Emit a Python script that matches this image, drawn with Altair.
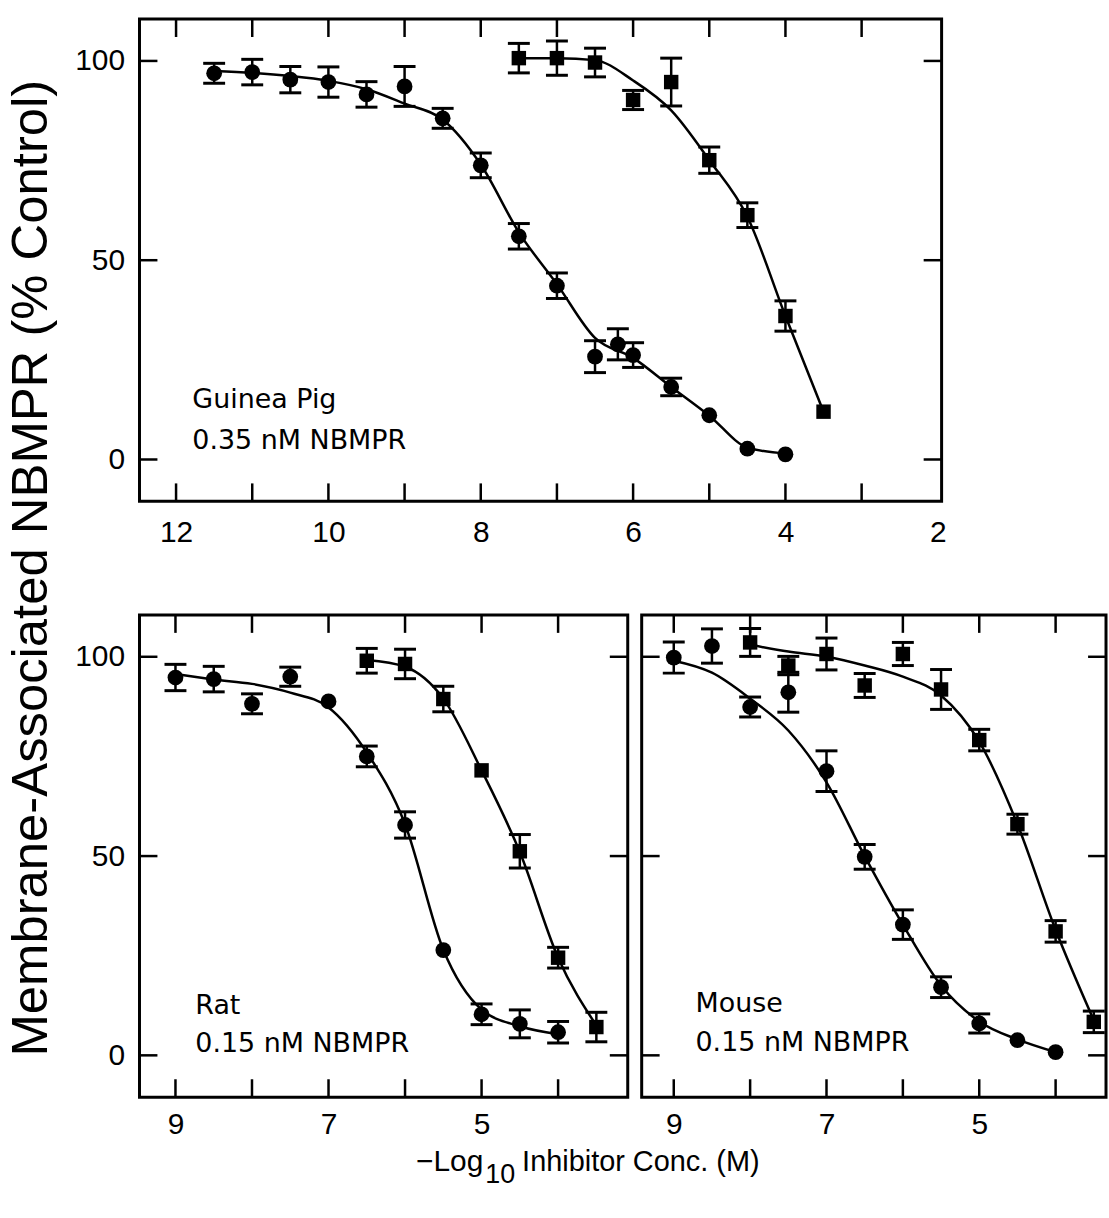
import altair as alt
import pandas as pd

# ---------------- Guinea pig (top panel) ----------------
GP_CIRC_X = [11.5, 11, 10.5, 10, 9.5, 9, 8.5, 8, 7.5, 7, 6.5, 6.2, 6, 5.5, 5, 4.5, 4]
GP_CIRC_Y = [96.9, 97.2, 95.3, 94.7, 91.6, 93.6, 85.6, 73.8, 56.0, 43.6, 25.8, 28.9, 26.2, 18.2, 11.1, 2.7, 1.3]
GP_CIRC_E = [2.5, 3.2, 3.3, 3.8, 3.2, 5.0, 2.5, 3.1, 3.2, 3.2, 4.0, 3.9, 3.1, 2.2, 0, 0, 0]
GP_SQ_X = [7.5, 7, 6.5, 6, 5.5, 5, 4.5, 4, 3.5]
GP_SQ_Y = [100.7, 100.7, 99.6, 90.2, 94.7, 75.1, 61.3, 36.0, 12.0]
GP_SQ_E = [3.7, 4.3, 3.6, 2.4, 6.0, 3.3, 3.1, 3.8, 0]
GP_FIT_C_X = [11.5, 11, 10.5, 10, 9.5, 9, 8.5, 8, 7.5, 7, 6.5, 6, 5.5, 5, 4.5, 4]
GP_FIT_C_Y = [97.5, 97.0, 96.2, 95.0, 92.9, 89.3, 85.3, 74.0, 57.0, 44.0, 30.5, 25.5, 18.2, 11.0, 3.0, 1.5]
GP_FIT_S_X = [7.5, 7, 6.5, 6, 5.5, 5, 4.5, 4, 3.5]
GP_FIT_S_Y = [100.7, 100.7, 100.2, 95.1, 87.6, 75.1, 60.9, 36.0, 12.0]

# ---------------- Rat (bottom left) ----------------
RAT_CIRC_X = [9, 8.5, 8, 7.5, 7, 6.5, 6, 5.5, 5, 4.5, 4]
RAT_CIRC_Y = [94.8, 94.4, 88.2, 95.0, 88.8, 75.0, 57.8, 26.4, 10.3, 7.9, 5.8]
RAT_CIRC_E = [3.3, 3.2, 2.5, 2.4, 0, 2.6, 3.3, 0, 2.6, 3.5, 2.7]
RAT_SQ_X = [6.5, 6, 5.5, 5, 4.5, 4, 3.5]
RAT_SQ_Y = [99.0, 98.2, 89.4, 71.5, 51.2, 24.5, 7.1]
RAT_SQ_E = [3.1, 3.7, 3.2, 0, 4.2, 2.6, 3.7]
RAT_FIT_C_X = [9, 8.5, 8, 7.5, 7, 6.5, 6, 5.5, 5, 4.5, 4]
RAT_FIT_C_Y = [95.7, 94.3, 93.2, 91.0, 87.3, 76.0, 58.0, 26.5, 11.5, 7.3, 5.3]
RAT_FIT_S_X = [6.5, 6, 5.5, 5, 4.5, 4, 3.5]
RAT_FIT_S_Y = [99.2, 97.5, 89.5, 71.5, 51.0, 24.5, 7.5]

# ---------------- Mouse (bottom right) ----------------
MOUSE_CIRC_X = [9, 8.5, 8, 7.5, 7, 6.5, 6, 5.5, 5, 4.5, 4]
MOUSE_CIRC_Y = [99.8, 102.7, 87.4, 91.1, 71.3, 49.8, 32.8, 17.1, 8.0, 3.8, 0.8]
MOUSE_CIRC_E = [3.9, 4.3, 2.5, 5.0, 5.1, 3.1, 3.7, 2.6, 2.4, 0, 0]
MOUSE_SQ_X = [8, 7.5, 7, 6.5, 6, 5.5, 5, 4.5, 4, 3.5]
MOUSE_SQ_Y = [103.6, 97.8, 100.7, 92.8, 100.7, 91.8, 79.1, 58.0, 31.1, 8.4]
MOUSE_SQ_E = [3.5, 2.3, 4.0, 3.0, 2.9, 5.0, 2.7, 2.5, 2.7, 2.7]
MOUSE_FIT_C_X = [9, 8.5, 8, 7.5, 7, 6.5, 6, 5.5, 5, 4.5, 4]
MOUSE_FIT_C_Y = [99.0, 96.0, 89.5, 81.5, 68.5, 50.0, 32.8, 17.5, 8.5, 4.0, 0.8]
MOUSE_FIT_S_X = [8, 7.5, 7, 6.5, 6, 5.5, 5, 4.5, 4, 3.5]
MOUSE_FIT_S_Y = [103.0, 101.3, 100.0, 97.8, 95.0, 90.3, 78.7, 58.0, 31.5, 8.8]

Y_TICKS = [0, 50, 100]
Y_DOMAIN = [-10.5, 110.5]
H = 484
TICK = 18
LABEL_FONT = "Liberation Sans"


def panel(cx, cy, ce, sx, sy, se, fcx, fcy, fsx, fsy, xdom, width, xlabels,
          xticks, show_ylabels, texts, label_pad):
    pts = pd.concat([
        pd.DataFrame({"x": cx, "y": cy, "err": ce, "s": "circle"}),
        pd.DataFrame({"x": sx, "y": sy, "err": se, "s": "square"}),
    ], ignore_index=True)
    bars = pts[pts["err"] > 0].copy()
    bars["lo"] = bars["y"] - bars["err"]
    bars["hi"] = bars["y"] + bars["err"]
    caps = pd.concat([
        pd.DataFrame({"x": bars["x"], "y": bars["lo"]}),
        pd.DataFrame({"x": bars["x"], "y": bars["hi"]}),
    ], ignore_index=True)
    fit = pd.concat([
        pd.DataFrame({"x": fcx, "y": fcy, "s": "c"}),
        pd.DataFrame({"x": fsx, "y": fsy, "s": "s"}),
    ], ignore_index=True)

    xscale = alt.Scale(domain=xdom, reverse=True, nice=False, zero=False)
    yscale = alt.Scale(domain=Y_DOMAIN, nice=False, zero=False)
    xaxis = alt.Axis(values=xlabels, ticks=False, tickSize=0, domain=False,
                     grid=False, labelFont=LABEL_FONT, labelFontSize=30,
                     labelColor="black", labelPadding=label_pad,
                     labelFlush=False, title=None)
    if show_ylabels:
        yaxis = alt.Axis(values=Y_TICKS, ticks=False, tickSize=0, domain=False,
                         grid=False, labelFont=LABEL_FONT, labelFontSize=30,
                         labelColor="black", labelPadding=15, title=None)
    else:
        yaxis = alt.Axis(labels=False, ticks=False, tickSize=0, domain=False,
                         grid=False, title=None)

    def X(f="x"):
        return alt.X(f + ":Q", scale=xscale, axis=xaxis)

    def Y(f="y"):
        return alt.Y(f + ":Q", scale=yscale, axis=yaxis)

    layers = []
    layers.append(alt.Chart(fit).mark_line(color="black", strokeWidth=2.5,
                                           interpolate="monotone")
                  .encode(x=X(), y=Y(), detail="s:N"))
    layers.append(alt.Chart(bars).mark_rule(color="black", strokeWidth=2.5,
                                            opacity=1)
                  .encode(x=X(), y=Y("lo"), y2="hi:Q"))
    layers.append(alt.Chart(caps).mark_tick(color="black", orient="horizontal",
                                            size=22, thickness=3, opacity=1)
                  .encode(x=X(), y=Y()))
    layers.append(alt.Chart(pts[pts["s"] == "circle"])
                  .mark_point(shape="circle", filled=True, size=250,
                              color="black", opacity=1)
                  .encode(x=X(), y=Y()))
    layers.append(alt.Chart(pts[pts["s"] == "square"])
                  .mark_point(shape="square", filled=True, size=210,
                              color="black", opacity=1)
                  .encode(x=X(), y=Y()))
    xt = pd.DataFrame({"x": xticks})
    yt = pd.DataFrame({"y": Y_TICKS})
    layers.append(alt.Chart(xt).mark_rule(color="black", strokeWidth=2.5, opacity=1)
                  .encode(x=X(), y=alt.value(H), y2=alt.value(H - TICK)))
    layers.append(alt.Chart(xt).mark_rule(color="black", strokeWidth=2.5, opacity=1)
                  .encode(x=X(), y=alt.value(0), y2=alt.value(TICK)))
    layers.append(alt.Chart(yt).mark_rule(color="black", strokeWidth=2.5, opacity=1)
                  .encode(y=Y(), x=alt.value(0), x2=alt.value(TICK)))
    layers.append(alt.Chart(yt).mark_rule(color="black", strokeWidth=2.5, opacity=1)
                  .encode(y=Y(), x=alt.value(width), x2=alt.value(width - TICK)))
    for (t, px, py, font, fs, align, angle, baseline) in texts:
        layers.append(alt.Chart(pd.DataFrame({"t": [t]}))
                      .mark_text(align=align, baseline=baseline, font=font,
                                 fontSize=fs, color="black", angle=angle)
                      .encode(text="t:N", x=alt.value(px), y=alt.value(py)))
    return alt.layer(*layers).properties(width=width, height=H)


ANN = "DejaVu Sans"
top = panel(GP_CIRC_X, GP_CIRC_Y, GP_CIRC_E, GP_SQ_X, GP_SQ_Y, GP_SQ_E,
            GP_FIT_C_X, GP_FIT_C_Y, GP_FIT_S_X, GP_FIT_S_Y,
            [1.95, 12.48], 805, [12, 10, 8, 6, 4, 2],
            [12, 11, 10, 9, 8, 7, 6, 5, 4, 3], True,
            [("Guinea Pig", 53, 390, ANN, 27, "left", 0, "alphabetic"),
             ("0.35 nM NBMPR", 53, 431, ANN, 27, "left", 0, "alphabetic"),
             ("Membrane-Associated NBMPR (% Control)", -108, 551, LABEL_FONT,
              51, "center", 270, "middle")],
            16)

rat = panel(RAT_CIRC_X, RAT_CIRC_Y, RAT_CIRC_E, RAT_SQ_X, RAT_SQ_Y, RAT_SQ_E,
            RAT_FIT_C_X, RAT_FIT_C_Y, RAT_FIT_S_X, RAT_FIT_S_Y,
            [3.09, 9.47], 490, [9, 7, 5], [9, 8, 7, 6, 5, 4], True,
            [("Rat", 56, 401, ANN, 27, "left", 0, "alphabetic"),
             ("0.15 nM NBMPR", 56, 439, ANN, 27, "left", 0, "alphabetic"),
             ("\u2212Log", 345, 558, LABEL_FONT, 30, "right", 0, "alphabetic"),
             ("10", 347, 570, LABEL_FONT, 27, "left", 0, "alphabetic"),
             ("Inhibitor Conc. (M)", 384, 558, LABEL_FONT, 29, "left", 0,
              "alphabetic")],
            12)

mouse = panel(MOUSE_CIRC_X, MOUSE_CIRC_Y, MOUSE_CIRC_E, MOUSE_SQ_X, MOUSE_SQ_Y,
              MOUSE_SQ_E, MOUSE_FIT_C_X, MOUSE_FIT_C_Y, MOUSE_FIT_S_X,
              MOUSE_FIT_S_Y, [3.34, 9.42], 466, [9, 7, 5], [9, 8, 7, 6, 5, 4],
              False,
              [("Mouse", 54, 399, ANN, 27, "left", 0, "alphabetic"),
               ("0.15 nM NBMPR", 54, 438, ANN, 27, "left", 0, "alphabetic")],
              12)

bottom = alt.hconcat(rat, mouse, spacing=14, bounds="flush")
chart = alt.vconcat(top, bottom, spacing=114, bounds="flush").properties(
    padding={"left": 4, "top": 14, "right": 0, "bottom": 0},
    background="white",
).configure_view(stroke="black", strokeWidth=3)

chart.save("out.html", embed_options={"renderer": "svg", "actions": False})
